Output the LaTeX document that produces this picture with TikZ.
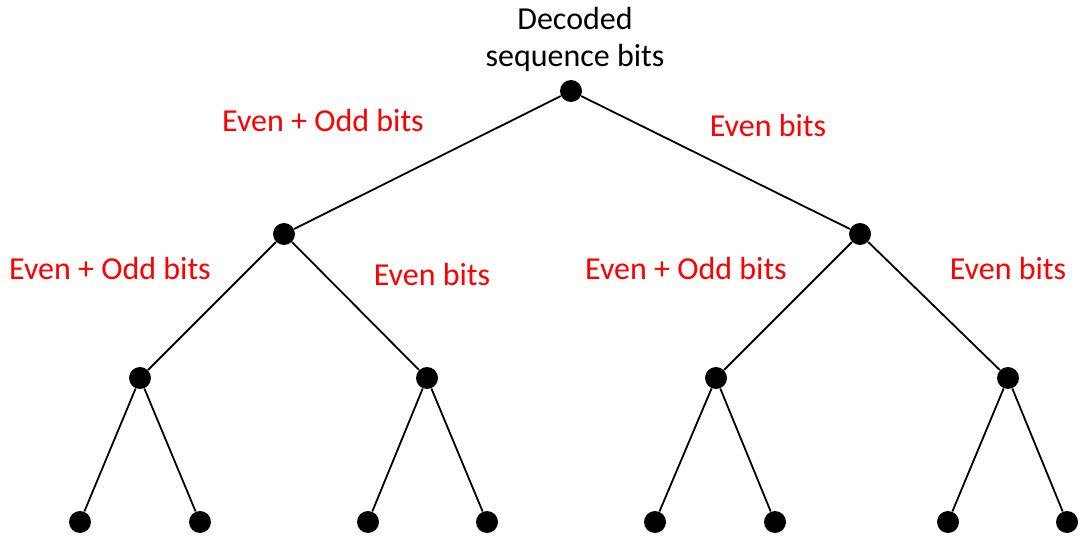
\documentclass[tikz,border=0pt]{standalone}
\usepackage{fontspec}
\setmainfont{Carlito}
\usepackage{tikz}
\usetikzlibrary{positioning}
\tikzset{edge/.style = {draw=black, line width=1.8pt}}

\begin{document}
\begin{tikzpicture}[x=1pt,y=-1pt,thick,dot node/.style={circle,fill=black,inner sep=0pt,minimum size=22pt},
    bits/.style={text=red,font=\fontsize{32}{37}\selectfont}]
            \useasboundingbox (0,0) rectangle (1079,537);
            % tree nodes
            \node[dot node] (r) at (571,91) {};
            \node[dot node] (a) at (284,234) {};
            \node[dot node] (b) at (860,234) {};
            \node[dot node] (aa) at (140,378) {};
            \node[dot node] (ab) at (427,378) {};
            \node[dot node] (ba) at (716,378) {};
            \node[dot node] (bb) at (1008,378) {};
            \node[dot node] (aaa) at (80,522) {};
            \node[dot node] (aab) at (200,522) {};
            \node[dot node] (aba) at (368,522) {};
            \node[dot node] (abb) at (487,522) {};
            \node[dot node] (baa) at (655,522) {};
            \node[dot node] (bab) at (775,522) {};
            \node[dot node] (bba) at (948,522) {};
            \node[dot node] (bbb) at (1067,522) {};

            \node[align=center,font=\fontsize{32}{37}\selectfont] (top) at (575,39) {Decoded\\sequence bits};

            \path[edge]
                (r) -- (a) (r) -- (b)
                (a) -- (aa) (a) -- (ab)
                (b) -- (ba) (b) -- (bb)
                (aa) -- (aaa) (aa) -- (aab)
                (ab) -- (aba) (ab) -- (abb)
                (ba) -- (baa) (ba) -- (bab)
                (bb) -- (bba) (bb) -- (bbb);

            % edge labels
            \node[bits] (l1) at (323,121) {Even + Odd bits};
            \node[bits] (l2) at (768,126) {Even bits};
            \node[bits] (l3) at (110,269) {Even + Odd bits};
            \node[bits] (l4) at (432,275) {Even bits};
            \node[bits] (l5) at (686,269) {Even + Odd bits};
            \node[bits] (l6) at (1008,269) {Even bits};
        \end{tikzpicture}
\end{document}
